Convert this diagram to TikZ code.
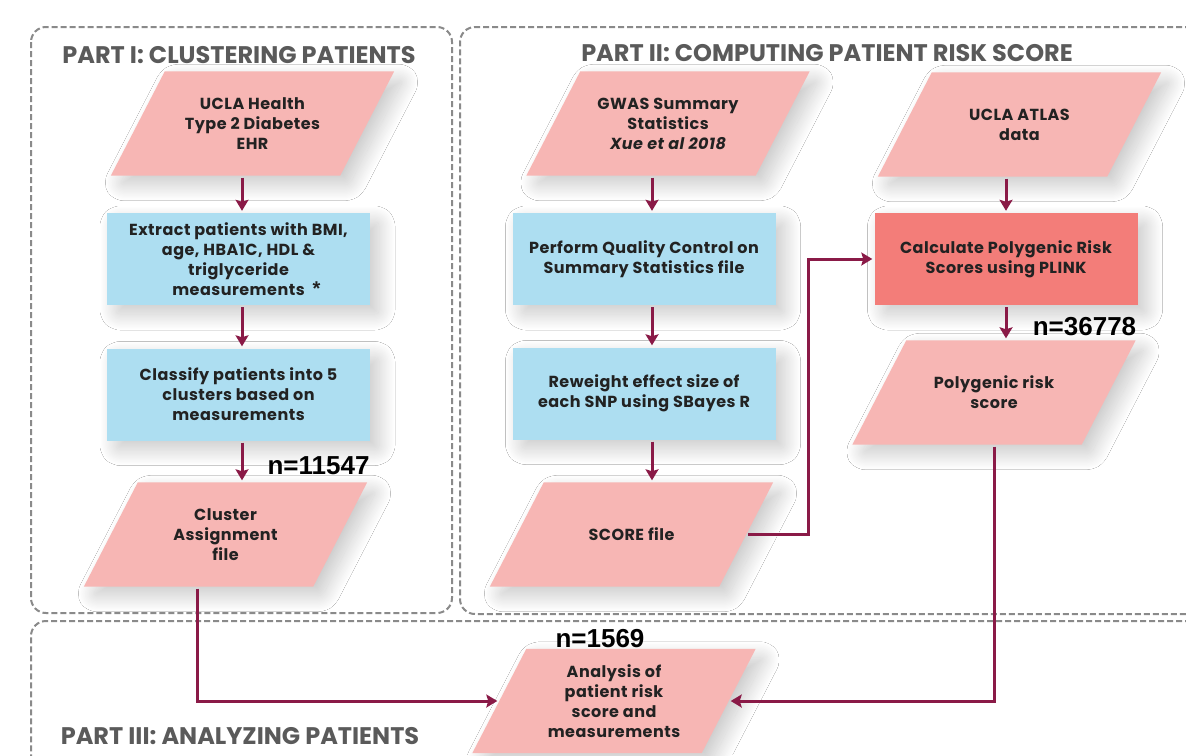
\documentclass[tikz,border=0pt]{standalone}
\usepackage{fontspec}
\setmainfont{Poppins}
\newfontfamily\arialfont{Liberation Sans}
\newfontfamily\boxfont{Poppins}[LetterSpace=3]
\usetikzlibrary{arrows.meta,shadows.blur}
\pgfdeclarelayer{bglayer}
\pgfdeclarelayer{shapelayer}
\pgfsetlayers{bglayer,shapelayer,main}
\definecolor{pinkfill}{HTML}{F7B6B4}
\definecolor{bluefill}{HTML}{ADDEF1}
\definecolor{salmonfill}{HTML}{F37D79}
\definecolor{maroon}{HTML}{8A1A47}
\definecolor{dashgray}{HTML}{8A8A8A}
\definecolor{titlegray}{HTML}{5A5A5A}
\definecolor{textdark}{HTML}{222222}
\tikzset{
  shade/.style={blur shadow={shadow xshift=9pt, shadow yshift=-9pt, shadow blur radius=16pt, shadow blur steps=40, shadow opacity=22, shadow blur extra rounding=4pt}},
  paranode/.style={rectangle, minimum width=229, minimum height=104, inner sep=0pt,
    align=center, text=textdark, font=\boxfont\bfseries\fontsize{16}{20}\selectfont},
  parafill/.style={fill=pinkfill, shade},
  procbox/.style={rectangle, minimum width=263, minimum height=92, inner sep=0pt,
    fill=bluefill, shade, align=center, text=textdark,
    font=\boxfont\bfseries\fontsize{16}{20}\selectfont},
  partbox/.style={draw=dashgray, line width=2pt, dash pattern=on 6pt off 3pt, rounded corners=15pt},
  parttitle/.style={text=titlegray, font=\bfseries\fontsize{24}{26}\selectfont, anchor=base, inner sep=0pt},
  nlabel/.style={font=\arialfont\bfseries\fontsize{26}{28}\selectfont, text=black, inner sep=0pt},
  arr/.style={draw=maroon, line width=3pt, -{Stealth[width=13pt,length=11pt,inset=2pt]}, shorten <=2pt, shorten >=2pt},
}
\begin{document}
\begin{tikzpicture}[x=1pt,y=-1pt]
\useasboundingbox (0,0) rectangle (1186,755);

% column 1
\node[paranode] (health) at (252.5,123.5) {UCLA Health\\Type 2 Diabetes\\EHR};
\node[procbox] (extract) at (238.5,259) {Extract patients with BMI,\\age, HBA1C, HDL \&\\triglyceride\\measurements\rlap{\hspace{8pt}{\arialfont\bfseries\fontsize{20}{20}\selectfont *}}};
\node[procbox] (classify) at (238.5,394.5) {Classify patients into 5\\clusters based on\\measurements};
\node[paranode] (cluster) at (225.5,534.5) {Cluster\\Assignment\\file};

% column 2
\node[paranode] (gwas) at (668,123.5) {GWAS Summary\\Statistics\\{\itshape Xue et al 2018}};
\node[procbox] (qc) at (644,259) {Perform Quality Control on\\Summary Statistics file};
\node[procbox] (reweight) at (644,393.5) {Reweight effect size of\\each SNP using SBayes R};
\node[paranode] (score) at (631.5,534.5) {SCORE file};

% column 3
\node[paranode] (atlas) at (1019.5,124.5) {UCLA ATLAS\\data};
\node[procbox, fill=salmonfill] (calc) at (1006,259) {Calculate Polygenic Risk\\Scores using PLINK};
\node[paranode] (poly) at (994,392.5) {Polygenic risk\\score};

% part III
\node[paranode] (analysis) at (614,701) {Analysis of\\patient risk\\score and\\measurements};

% parallelogram bodies (data shapes) behind their text nodes
\begin{pgfonlayer}{shapelayer}
\foreach \n in {health,cluster,gwas,score,atlas,poly,analysis}{
  \path[parafill] ([xshift=27pt]\n.north west) -- ([xshift=27pt]\n.north east)
    -- ([xshift=-27pt]\n.south east) -- ([xshift=-27pt]\n.south west) -- cycle;
}
\end{pgfonlayer}

% background and part frames
\begin{pgfonlayer}{bglayer}
\fill[white] (0,0) rectangle (1186,755);
\draw[partbox] (31,27) rectangle (452,613);
\draw[partbox] (1200,27) -- (460,27) -- (460,614) -- (1200,614);
\draw[partbox] (1200,621) -- (31,621) -- (31,780);
\end{pgfonlayer}

\node[parttitle] (t1) at (239,63) {PART I: CLUSTERING PATIENTS};
\node[parttitle] (t2) at (827,61) {PART II: COMPUTING PATIENT RISK SCORE};
\node[parttitle] (t3) at (240,744) {PART III: ANALYZING PATIENTS};

% counts
\node[nlabel] (n1) at (318.5,466) {n=11547};
\node[nlabel] (n2) at (1084.5,327) {n=36778};
\node[nlabel] (n3) at (600,639) {n=1569};

% connectors
\draw[arr] ([xshift=3.5pt]extract.north |- health.south) -- ([xshift=3.5pt]extract.north);
\draw[arr] ([xshift=3.5pt]extract.south) -- ([xshift=3.5pt]classify.north);
\draw[arr] ([xshift=3.5pt]classify.south) -- ([xshift=3.5pt]classify.south |- cluster.north);
\draw[arr] ([xshift=8pt]qc.north |- gwas.south) -- ([xshift=8pt]qc.north);
\draw[arr] ([xshift=8pt]qc.south) -- ([xshift=8pt]reweight.north);
\draw[arr] ([xshift=8pt]reweight.south) -- ([xshift=8pt]reweight.south |- score.north);
\draw[arr] (calc.north |- atlas.south) -- (calc.north);
\draw[arr] (calc.south) -- (calc.south |- poly.north);
\draw[arr] (score.east) -- ++(62,0) |- (calc.west);
\draw[arr] (poly.south) |- (analysis.east);
\draw[arr] ([xshift=-28.5pt]cluster.south) |- (analysis.west);
\end{tikzpicture}
\end{document}
